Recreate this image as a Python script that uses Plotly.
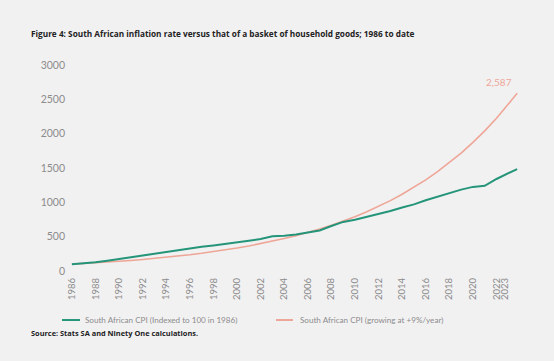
import plotly.graph_objects as go

# ---- data ----
years = [1986, 1987, 1988, 1989, 1990, 1991, 1992, 1993, 1994, 1995, 1996, 1997,
         1998, 1999, 2000, 2001, 2002, 2003, 2004, 2005, 2006, 2007, 2008, 2008.5,
         2009, 2010, 2011, 2012, 2013, 2014, 2015, 2016, 2017, 2018, 2019, 2020,
         2021, 2022, 2023, 2023.75]
cpi_indexed = [100, 112, 128, 150, 176, 203, 230, 252, 275, 300, 325, 352,
               372, 392, 415, 440, 465, 505, 514, 530, 560, 590, 655, 690,
               715, 745, 785, 825, 875, 925, 970, 1030, 1085, 1140, 1185, 1225,
               1240, 1340, 1420, 1485]
cpi_9pct = [100, 109, 119, 130, 141, 154, 168, 183, 199, 217, 237, 258,
            281, 307, 334, 364, 397, 433, 472, 514, 560, 611, 666, 696,
            726, 791, 862, 940, 1025, 1117, 1217, 1327, 1446, 1576, 1718, 1873,
            2041, 2225, 2425, 2587]
tick_labels = ["1986", "1988", "1990", "1992", "1994", "1996", "1998", "2000",
               "2002", "2004", "2006", "2008", "2010", "2012", "2014", "2016",
               "2018", "2020", "2022", "2023"]
tick_positions = [1986, 1988, 1990, 1992, 1994, 1996, 1998, 2000, 2002, 2004,
                  2006, 2008, 2010, 2012, 2014, 2016, 2018, 2020, 2022, 2022.75]
y_ticks = [0, 500, 1000, 1500, 2000, 2500, 3000]

GREEN = "#25957a"
PINK = "#eea697"
GREY = "#8c8c8c"
BG = "#f2f1f2"

fig = go.Figure()
fig.add_trace(go.Scatter(x=years, y=cpi_9pct, mode="lines",
                         line=dict(color=PINK, width=1.6),
                         name="South African CPI (growing at +9%/year)",
                         showlegend=False))
fig.add_trace(go.Scatter(x=years, y=cpi_indexed, mode="lines",
                         line=dict(color=GREEN, width=2),
                         name="South African CPI (Indexed to 100 in 1986)",
                         showlegend=False))

fig.add_annotation(x=years[-1], y=cpi_9pct[-1], text=f"{cpi_9pct[-1]:,}",
                   showarrow=False, xanchor="right", yanchor="bottom",
                   xshift=-3, yshift=3,
                   font=dict(family="Lato", size=10, color=PINK))

# title and source
fig.add_annotation(xref="paper", yref="paper", x=-0.0804, y=1.155,
                   xanchor="left", yanchor="middle", showarrow=False,
                   text="<b>Figure 4: South African inflation rate versus that of a basket of household goods; 1986 to date</b>",
                   font=dict(family="Open Sans", size=8.25, color="#222222"))
fig.add_annotation(xref="paper", yref="paper", x=-0.0804, y=-0.301,
                   xanchor="left", yanchor="middle", showarrow=False,
                   text="<b>Source: Stats SA and Ninety One calculations.</b>",
                   font=dict(family="Open Sans", size=7.4, color="#222222"))

# manual legend
leg_y = -0.238
fig.add_shape(type="line", xref="paper", yref="paper", x0=-0.0087, x1=0.0304,
              y0=leg_y, y1=leg_y, line=dict(color=GREEN, width=2))
fig.add_annotation(xref="paper", yref="paper", x=0.037, y=leg_y,
                   xanchor="left", yanchor="middle", showarrow=False,
                   text="South African CPI (Indexed to 100 in 1986)",
                   font=dict(family="Lato", size=8.1, color=GREY))
fig.add_shape(type="line", xref="paper", yref="paper", x0=0.4565, x1=0.4935,
              y0=leg_y, y1=leg_y, line=dict(color=PINK, width=2))
fig.add_annotation(xref="paper", yref="paper", x=0.5043, y=leg_y,
                   xanchor="left", yanchor="middle", showarrow=False,
                   text="South African CPI (growing at +9%/year)",
                   font=dict(family="Lato", size=8.1, color=GREY))

fig.update_layout(
    width=554, height=361,
    margin=dict(l=66, r=28, t=65, b=90),
    paper_bgcolor=BG, plot_bgcolor=BG,
    xaxis=dict(range=[1985.5, 2024.5], tickmode="array",
               tickvals=tick_positions, ticktext=tick_labels,
               tickangle=-90, showgrid=False, zeroline=False, showline=False,
               ticks="", ticklabelstandoff=4,
               tickfont=dict(family="Lato", size=9.5, color=GREY)),
    yaxis=dict(range=[0, 3000], tickmode="array", tickvals=y_ticks,
               showgrid=False, zeroline=False, showline=False, ticks="",
               tickfont=dict(family="Lato", size=10.5, color=GREY)),
)

fig.write_html("out.html", config={"displayModeBar": False},
               post_script="document.body.style.margin='0';"
                           "document.body.style.background='%s';" % BG)
